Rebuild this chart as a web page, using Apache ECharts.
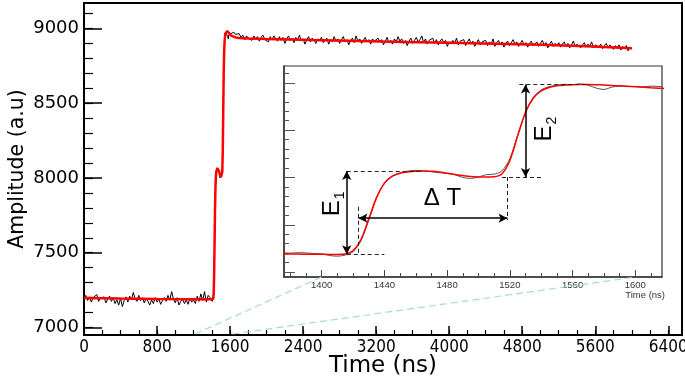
<!DOCTYPE html>
<html>
<head>
<meta charset="utf-8">
<script src="https://cdn.jsdelivr.net/npm/echarts@6/dist/echarts.min.js"></script>
<style>
  html, body { margin: 0; padding: 0; background: #fff; }
  #main { width: 685px; height: 379px; }
</style>
</head>
<body>
<div id="main"></div>
<script>
// ---- waveform (black), digitizer samples ----
// 0 .. 1360 ns, every 20 ns
var blackPre = [
  7195, 7215, 7180, 7205, 7170, 7200, 7190, 7220, 7175, 7195,
  7185, 7205, 7165, 7190, 7210, 7175, 7200, 7160, 7185, 7150,
  7195, 7140, 7180, 7205, 7170, 7210, 7185, 7235, 7190, 7175,
  7215, 7180, 7200, 7165, 7195, 7175, 7150, 7185, 7160, 7200,
  7170, 7190, 7155, 7180, 7200, 7175, 7215, 7185, 7240, 7190,
  7165, 7200, 7150, 7175, 7190, 7160, 7185, 7155, 7195, 7170,
  7185, 7160, 7210, 7175, 7225, 7180, 7240, 7170, 7215
];
// 1380 .. 1620 ns, every 5 ns (the zoomed region)
var blackStep = [
  7200, 7205, 7203, 7196, 7192, 7175, 7168, 7180, 7215, 7330,
  7545, 7780, 7935, 8010, 8048, 8068, 8075, 8070, 8060, 8050,
  8042, 8028, 8000, 7990, 8005, 8030, 8035, 8070, 8200, 8450,
  8690, 8845, 8925, 8960, 8975, 8985, 8980, 8988, 8975, 8945,
  8930, 8955, 8965, 8960, 8962, 8958, 8965, 8962, 8955
];
// 1640 .. 6000 ns, every 20 ns
var blackPost = [
  8975, 8960, 8950, 8965, 8940, 8955, 8925, 8950, 8935, 8945,
  8920, 8950, 8930, 8945, 8915, 8940, 8955, 8925, 8935, 8910,
  8945, 8925, 8950, 8930, 8915, 8945, 8920, 8940, 8900, 8930,
  8950, 8920, 8935, 8905, 8940, 8925, 8955, 8915, 8930, 8895,
  8925, 8945, 8910, 8935, 8920, 8900, 8930, 8915, 8940, 8905,
  8920, 8935, 8895, 8925, 8910, 8945, 8915, 8930, 8900, 8925,
  8945, 8910, 8925, 8890, 8920, 8935, 8905, 8950, 8915, 8930,
  8900, 8920, 8940, 8910, 8925, 8895, 8930, 8915, 8905, 8935,
  8910, 8925, 8890, 8915, 8940, 8905, 8920, 8895, 8930, 8910,
  8945, 8915, 8930, 8900, 8920, 8885, 8915, 8935, 8900, 8920,
  8940, 8910, 8925, 8950, 8905, 8930, 8895, 8920, 8910, 8935,
  8900, 8925, 8890, 8915, 8930, 8905, 8920, 8880, 8910, 8895,
  8920, 8900, 8935, 8890, 8915, 8905, 8925, 8885, 8910, 8930,
  8895, 8915, 8880, 8905, 8925, 8890, 8910, 8900, 8920, 8885,
  8910, 8895, 8930, 8880, 8905, 8920, 8890, 8910, 8875, 8900,
  8915, 8885, 8905, 8925, 8895, 8910, 8880, 8900, 8920, 8890,
  8905, 8875, 8900, 8915, 8885, 8895, 8910, 8880, 8900, 8920,
  8890, 8905, 8870, 8895, 8915, 8880, 8900, 8885, 8905, 8875,
  8895, 8910, 8880, 8900, 8870, 8890, 8915, 8880, 8895, 8905,
  8870, 8890, 8905, 8875, 8895, 8880, 8910, 8870, 8890, 8900,
  8875, 8895, 8865, 8885, 8900, 8870, 8890, 8880, 8860, 8885,
  8870, 8890, 8855, 8880, 8865, 8885, 8850, 8875, 8860
];

// ---- fit (red) ----
var fitPreT = [0, 400, 800, 1200, 1360];
var fitPreV = [7198, 7194, 7191, 7189, 7189];
// 1380 .. 1620 ns, every 5 ns
var fitStepV = [
  7190, 7190, 7189, 7189, 7188, 7187, 7187, 7192, 7225, 7340,
  7560, 7790, 7940, 8015, 8045, 8058, 8065, 8068, 8066, 8058,
  8045, 8032, 8020, 8010, 8006, 8005, 8008, 8040, 8180, 8440,
  8690, 8840, 8915, 8950, 8968, 8976, 8980, 8982, 8982, 8980,
  8977, 8973, 8968, 8963, 8958, 8953, 8948, 8944, 8940
];
var fitPostT = [1660, 1700, 1800, 2000, 2500, 3000, 3500, 4000, 4500, 5000, 5500, 6000];
var fitPostV = [8940, 8936, 8932, 8929, 8922, 8916, 8910, 8904, 8897, 8890, 8881, 8868];

// ---- ticks ----
var mainXTicks = [0, 800, 1600, 2400, 3200, 4000, 4800, 5600, 6400];
var mainYTicks = [7000, 7500, 8000, 8500, 9000];
var insetXTicks = [1400, 1440, 1480, 1520, 1560, 1600];

// ---- annotation levels in the inset (ns, a.u) ----
var e1 = { t: 1416, lo: 7188, hi: 8068 };
var e2 = { t: 1530, lo: 8005, hi: 8982 };
var dT = { t1: 1423.5, t2: 1518.5, y: 7570 };
var labelE1 = [1407, 7720];
var labelE2 = [1542, 8512];
var labelDT = [1477, 7778];
// zoom guide lines: main time -> inset time
var guideFrom = [1215, 1630];
var guideTo = [1400, 1600];

function build(t0, step, vals) {
  return vals.map(function (v, i) { return [t0 + i * step, v]; });
}
function zip(ts, vs) {
  return ts.map(function (t, i) { return [t, vs[i]]; });
}
function range(a, b, s) {
  var r = [];
  for (var v = a; v <= b + 1e-9; v += s) r.push(v);
  return r;
}
function plain(v) { return String(v); }

var blackData = build(0, 20, blackPre).concat(build(1380, 5, blackStep), build(1640, 20, blackPost));
var redData = zip(fitPreT, fitPreV).concat(build(1380, 5, fitStepV), zip(fitPostT, fitPostV));

var chart = echarts.init(document.getElementById('main'), null, { renderer: 'canvas' });

var mainX = { min: 0, max: 6550 };
var mainY = { min: 6950, max: 9170 };
var insX = { min: 1376, max: 1617 };
var insY = { min: 6948, max: 9178 };

var arrowStyle = { color: '#000', width: 1.5, type: 'solid' };
var dashStyle = { color: '#222', width: 1, type: [4, 3] };

function seg(a, b, style, s0, s1) {
  return [
    { coord: a, symbol: s0 || 'none', symbolSize: [7, 9], lineStyle: style },
    { coord: b, symbol: s1 || 'none', symbolSize: [7, 9] }
  ];
}

var option = {
  animation: false,
  grid: [
    { left: 84, top: 3, right: 3, bottom: 44, outerBoundsMode: 'none', containLabel: false,
      show: true, borderColor: '#000', borderWidth: 2, backgroundColor: '#fff' },
    { left: 284, top: 66, right: 23, bottom: 102, outerBoundsMode: 'none', containLabel: false,
      show: true, borderColor: '#333', borderWidth: 1.2, backgroundColor: '#fff' }
  ],
  xAxis: [
    {
      gridIndex: 0, type: 'value', min: mainX.min, max: mainX.max, position: 'bottom',
      axisLine: { lineStyle: { color: '#000', width: 2 } },
      axisTick: { inside: true, length: 9, customValues: mainXTicks, lineStyle: { color: '#000', width: 1.5 } },
      axisLabel: { customValues: mainXTicks, formatter: plain, color: '#000', fontSize: 17, fontFamily: 'DejaVu Sans Condensed', margin: 4 },
      splitLine: { show: false },
      name: 'Time (ns)', nameLocation: 'middle', nameGap: 31, nameMoveOverlap: false,
      nameTextStyle: { fontSize: 23, color: '#000', fontFamily: 'DejaVu Sans', verticalAlign: 'middle' }
    },
    {
      gridIndex: 0, type: 'value', min: mainX.min, max: mainX.max, position: 'bottom',
      axisLine: { show: false },
      axisTick: { inside: true, length: 5, customValues: range(0, 6400, 200), lineStyle: { color: '#000', width: 1.2 } },
      axisLabel: { show: false }, splitLine: { show: false }
    },
    {
      gridIndex: 1, type: 'value', min: insX.min, max: insX.max, position: 'bottom',
      axisLine: { lineStyle: { color: '#333', width: 1.5 } },
      axisTick: { inside: true, length: 7, customValues: insetXTicks, lineStyle: { color: '#444', width: 1 } },
      axisLabel: { customValues: insetXTicks, formatter: plain, color: '#333', fontSize: 9.5, fontFamily: 'Liberation Sans', margin: 3 },
      splitLine: { show: false },
      name: 'Time (ns)', nameLocation: 'end', nameGap: 3, nameMoveOverlap: false,
      nameTextStyle: { fontSize: 9.5, color: '#333', fontFamily: 'Liberation Sans', align: 'right', verticalAlign: 'top', padding: [13, 0, 0, 0] }
    },
    {
      gridIndex: 1, type: 'value', min: insX.min, max: insX.max, position: 'bottom',
      axisLine: { show: false },
      axisTick: { inside: true, length: 4, customValues: range(1380, 1610, 10), lineStyle: { color: '#444', width: 1 } },
      axisLabel: { show: false }, splitLine: { show: false }
    }
  ],
  yAxis: [
    {
      gridIndex: 0, type: 'value', min: mainY.min, max: mainY.max, position: 'left',
      axisLine: { show: true, lineStyle: { color: '#000', width: 2 } },
      axisTick: { show: true, inside: true, length: 18, customValues: mainYTicks, lineStyle: { color: '#000', width: 1.5 } },
      axisLabel: { customValues: mainYTicks, formatter: plain, color: '#000', fontSize: 18, fontFamily: 'DejaVu Sans', margin: 5 },
      splitLine: { show: false },
      name: 'Amplitude (a.u)', nameLocation: 'middle', nameGap: 66, nameRotate: 90, nameMoveOverlap: false,
      nameTextStyle: { fontSize: 20.5, color: '#000', fontFamily: 'DejaVu Sans', verticalAlign: 'middle' }
    },
    {
      gridIndex: 0, type: 'value', min: mainY.min, max: mainY.max, position: 'left',
      axisLine: { show: false },
      axisTick: { show: true, inside: true, length: 9, customValues: range(7000, 9100, 100), lineStyle: { color: '#000', width: 1.2 } },
      axisLabel: { show: false }, splitLine: { show: false }
    },
    {
      gridIndex: 1, type: 'value', min: insY.min, max: insY.max, position: 'left',
      axisLine: { show: true, lineStyle: { color: '#333', width: 1.5 } },
      axisTick: { show: true, inside: true, length: 11, customValues: mainYTicks, lineStyle: { color: '#555', width: 1 } },
      axisLabel: { show: false }, splitLine: { show: false }
    },
    {
      gridIndex: 1, type: 'value', min: insY.min, max: insY.max, position: 'left',
      axisLine: { show: false },
      axisTick: { show: true, inside: true, length: 5, customValues: range(7000, 9100, 100), lineStyle: { color: '#555', width: 1 } },
      axisLabel: { show: false }, splitLine: { show: false }
    }
  ],
  series: [
    {
      name: 'signal', type: 'line', xAxisIndex: 0, yAxisIndex: 0, data: blackData,
      showSymbol: false, lineStyle: { color: '#000', width: 1 }, z: 2, silent: true
    },
    {
      name: 'fit', type: 'line', xAxisIndex: 0, yAxisIndex: 0, data: redData,
      showSymbol: false, lineStyle: { color: '#ff0000', width: 2.5 }, z: 3, silent: true
    },
    {
      name: 'signal zoom', type: 'line', xAxisIndex: 2, yAxisIndex: 2, data: blackData,
      showSymbol: false, smooth: 0.3, lineStyle: { color: '#555', width: 1 }, z: 2, silent: true
    },
    {
      name: 'fit zoom', type: 'line', xAxisIndex: 2, yAxisIndex: 2, data: redData,
      showSymbol: false, smooth: 0.3, lineStyle: { color: '#ff0000', width: 1.5 }, z: 3, silent: true,
      markLine: {
        silent: true, animation: false, label: { show: false },
        symbol: ['none', 'none'],
        data: [
          // dashed guides
          seg([e1.t, e1.lo], [1440, e1.lo], dashStyle),
          seg([e1.t, e1.hi], [1465, e1.hi], dashStyle),
          seg([dT.t1, 7690], [dT.t1, e1.lo], dashStyle),
          seg([dT.t2, e2.lo], [dT.t2, 7550], dashStyle),
          seg([1515, e2.lo], [1541, e2.lo], dashStyle),
          seg([1526, e2.hi], [1570, e2.hi], dashStyle),
          // arrows
          seg([e1.t, e1.lo], [e1.t, e1.hi], arrowStyle, 'arrow', 'arrow'),
          seg([e2.t, e2.lo], [e2.t, e2.hi], arrowStyle, 'arrow', 'arrow'),
          seg([dT.t1, dT.y], [dT.t2, dT.y], arrowStyle, 'arrow', 'arrow')
        ]
      }
    }
  ]
};

chart.setOption(option);

// labels and zoom guides, placed through the axes
function px(ax, pt) {
  return chart.convertToPixel({ xAxisIndex: ax, yAxisIndex: ax }, pt);
}
var richE = {
  e: { fontSize: 24, fontFamily: 'Liberation Sans', fill: '#000', color: '#000' },
  s: { fontSize: 14, fontFamily: 'Liberation Sans', fill: '#000', color: '#000', verticalAlign: 'bottom', padding: [0, 0, -3, 1] }
};
function eLabel(pos, sub) {
  var p = px(2, pos);
  return {
    type: 'text', x: p[0], y: p[1], rotation: Math.PI / 2, silent: true, z: 20,
    style: {
      text: '{e|E}{s|' + sub + '}', rich: richE,
      align: 'center', verticalAlign: 'middle', textAlign: 'center', textVerticalAlign: 'middle'
    }
  };
}
var graphics = [];
for (var i = 0; i < guideFrom.length; i++) {
  var a = px(0, [guideFrom[i], mainY.min]);
  var b = px(2, [guideTo[i], insY.min]);
  graphics.push({
    type: 'line', silent: true, z: 1,
    shape: { x1: a[0], y1: a[1] - 1, x2: b[0], y2: b[1] },
    style: { stroke: '#a6e2b6', lineWidth: 1.2, lineDash: [7, 4] }
  });
}
graphics.push(eLabel(labelE1, '1'));
graphics.push(eLabel(labelE2, '2'));
var pdt = px(2, labelDT);
graphics.push({
  type: 'text', x: pdt[0], y: pdt[1], silent: true, z: 20,
  style: {
    text: '\u0394 T', font: '24px "Liberation Sans"', fill: '#000',
    align: 'center', verticalAlign: 'middle', textAlign: 'center', textVerticalAlign: 'middle'
  }
});
chart.setOption({ graphic: graphics });
</script>
</body>
</html>
